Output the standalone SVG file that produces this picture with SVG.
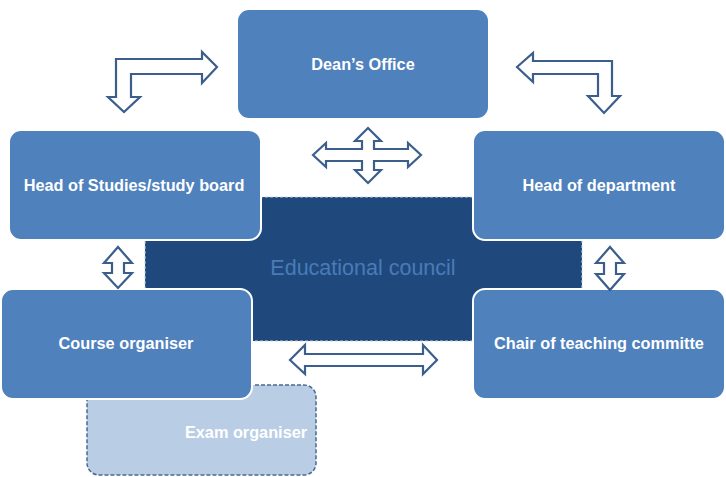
<svg xmlns="http://www.w3.org/2000/svg" width="726" height="477" viewBox="0 0 726 477">
<style>
.box{fill:#4F81BD;stroke:#FFFFFF;stroke-width:2}
.lbl{font-family:"Liberation Sans",Arial,sans-serif;font-weight:bold;font-size:16.3px;fill:#FFFFFF;text-anchor:middle}
.arr{fill:#FFFFFF;stroke:#3B5E8C;stroke-width:2.2;stroke-linejoin:miter}
</style>
<rect width="726" height="477" fill="#FFFFFF"/>
<g id="council">
<rect x="145" y="197" width="437" height="144" fill="#1F497D" stroke="#C8D4E4" stroke-width="1" stroke-dasharray="3,2"/>
<text x="363" y="275" style="font-family:'Liberation Sans',Arial,sans-serif;font-size:21.5px;fill:#4A7BB7;text-anchor:middle">Educational council</text>
</g>
<g id="exam">
<rect x="87" y="385" width="229" height="90" rx="12" fill="#B9CDE5" stroke="#4A6A93" stroke-width="1.5" stroke-dasharray="4,2"/>
<text class="lbl" x="246" y="438">Exam organiser</text>
</g>
<g id="dean">
<rect class="box" x="237" y="9" width="252" height="110" rx="12"/>
<text class="lbl" x="363" y="70">Dean’s Office</text>
</g>
<g id="studies">
<rect class="box" x="9" y="130" width="252" height="110" rx="12"/>
<text class="lbl" x="134" y="191">Head of Studies/study board</text>
</g>
<g id="department">
<rect class="box" x="473" y="130" width="252" height="110" rx="12"/>
<text class="lbl" x="599" y="191">Head of department</text>
</g>
<g id="course">
<rect class="box" x="1" y="289" width="251" height="110" rx="12"/>
<text class="lbl" x="126" y="349">Course organiser</text>
</g>
<g id="chair">
<rect class="box" x="473" y="289" width="252" height="110" rx="12"/>
<text class="lbl" x="599" y="349">Chair of teaching committe</text>
</g>
<g id="connectors">
<path class="arr" d="M116,59 L202,59 L202,52 L217,67 L202,83 L202,74 L131,74 L131,97 L140,97 L124,112 L108,97 L116,97 Z"/>
<path class="arr" d="M517,67 L533,53 L533,61 L612,61 L612,96 L620,96 L604,113 L588,96 L598,96 L598,74 L533,74 L533,82 Z"/>
<path class="arr" d="M313,155 L326,143 L326,149 L362,149 L362,141 L355,141 L368,128 L381,141 L374,141 L374,149 L408,149 L408,143 L421,155 L408,167 L408,161 L374,161 L374,170 L381,170 L368,183 L355,170 L362,170 L362,161 L326,161 L326,167 Z"/>
<path class="arr" d="M118,247 L132,263 L124,263 L124,273 L132,273 L118,288 L104,273 L112,273 L112,263 L104,263 Z"/>
<path class="arr" d="M610,247 L624,263 L616,263 L616,274 L624,274 L610,290 L596,274 L604,274 L604,263 L596,263 Z"/>
<path class="arr" d="M290,360 L305,345 L305,354 L423,354 L423,345 L437,360 L423,374 L423,366 L305,366 L305,374 Z"/>
</g>
</svg>
